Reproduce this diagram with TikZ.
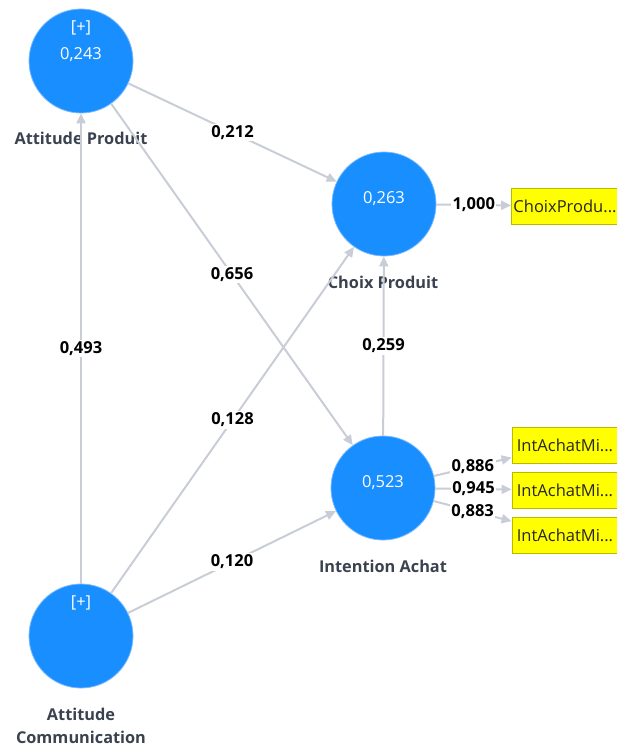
\documentclass[tikz,border=0pt]{standalone}
\usepackage{fontspec}
\setmainfont{Open Sans}
\usetikzlibrary{arrows.meta}
\definecolor{lvblue}{RGB}{24,142,255}
\definecolor{lvedge}{RGB}{120,185,255}
\definecolor{pathgray}{RGB}{200,205,214}
\definecolor{namegray}{RGB}{58,66,80}
\definecolor{indyellow}{RGB}{255,255,0}
\definecolor{indedge}{RGB}{185,185,0}

\begin{document}
\begin{tikzpicture}[x=1pt, y=-1pt,
  lv/.style={circle, fill=lvblue, draw=lvedge, line width=0.8pt,
             minimum size=104pt, inner sep=0pt},
  val/.style={text=white, font=\fontsize{16.5}{18}\selectfont, inner sep=0pt},
  lvname/.style={text=namegray, font=\fontsize{16.3}{23}\selectfont\bfseries,
                 align=center, inner sep=0pt},
  ind/.style={draw=indedge, fill=indyellow, line width=0.8pt, minimum width=106pt,
              minimum height=36pt, inner sep=2pt, text=black!85,
              font=\fontsize{16.5}{18}\selectfont},
  arr/.style={-{Triangle[length=10pt,width=9pt]}, draw=pathgray, line width=2pt},
  lbl/.style={font=\fontsize{16.5}{18}\selectfont\bfseries, fill=white, inner sep=1.5pt},
]
  \useasboundingbox (0,0) rectangle (617,747);

  \node[lv] (AP) at (81,61)   {};
  \node[lv] (CP) at (384,204) {};
  \node[lv] (IA) at (383,488) {};
  \node[lv] (AC) at (81,636)  {};

  \node[val] (APp) at (81,28)   {[+]};
  \node[val] (APv) at (81,55)   {0,243};
  \node[val] (CPv) at (384,199) {0,263};
  \node[val] (IAv) at (383,483) {0,523};
  \node[val] (ACp) at (81,603)  {[+]};

  \node[lvname] (APn) at (81,138)  {Attitude Produit};
  \node[lvname] (CPn) at (383,282) {Choix Produit};
  \node[lvname] (IAn) at (383,566) {Intention Achat};
  \node[lvname] (ACn) at (81,726)  {Attitude\\Communication};

  \node[ind] (cp1) at (565,206) {ChoixProdu...};
  \node[ind] (ia1) at (565,445) {IntAchatMi...};
  \node[ind] (ia2) at (565,490) {IntAchatMi...};
  \node[ind] (ia3) at (565,535) {IntAchatMi...};

  \draw[arr] (AP) -- node[lbl] {0,212} (CP);
  \draw[arr] (AP) -- node[lbl] {0,656} (IA);
  \draw[arr] (AC) -- node[lbl] {0,493} (AP);
  \draw[arr] (AC) -- node[lbl] {0,128} (CP);
  \draw[arr] (AC) -- node[lbl] {0,120} (IA);
  \draw[arr] (IA) -- node[lbl] {0,259} (CP);

  \draw[arr] (CP) -- node[lbl] {1,000} (cp1);
  \draw[arr] (IA) -- node[lbl] {0,886} (ia1);
  \draw[arr] (IA) -- node[lbl] {0,945} (ia2);
  \draw[arr] (IA) -- node[lbl] {0,883} (ia3);
\end{tikzpicture}
\end{document}
